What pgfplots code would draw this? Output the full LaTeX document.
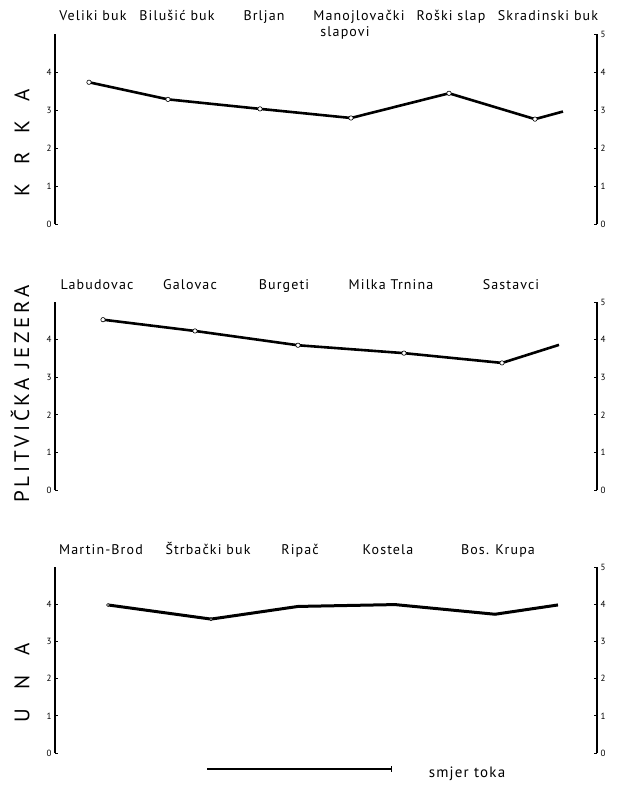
\documentclass[border=0pt]{standalone}
\usepackage{pgfplots}
\pgfplotsset{compat=1.18}
\usepackage{fontspec}
\setmainfont{PT Sans}

% one picture unit = one pixel of the reference (620 x 807)
\pgfplotsset{
  panel/.style={
    scale only axis, width=542pt, anchor=south west,
    xmin=55, xmax=597, ymin=0, ymax=5,
    axis x line=none, clip=false,
    axis line style={line width=1.6pt},
    tick style={black, line width=0.8pt}, major tick length=3pt,
    tick label style={font=\fontsize{9}{9}\selectfont},
    /pgf/number format/assume math mode=true,
  },
  lpanel/.style={panel, axis y line*=left, ytick={0,1,2,3,4}},
  rpanel/.style={panel, axis y line*=right, ytick={0,1,2,3,4,5}},
  river/.style={black, line width=2.6pt, mark=*, mark size=2.2pt,
    mark options={fill=white, draw=black, line width=0.6pt}},
}
\newcommand{\site}{\fontsize{14}{14}\selectfont\addfontfeature{LetterSpace=8}}
\newcommand{\rivername}{\fontsize{21}{21}\selectfont}

\begin{document}
\begin{tikzpicture}
\useasboundingbox (0pt,0pt) rectangle (620pt,-807pt);

% ---- KRKA
\begin{axis}[lpanel, at={(55pt,-224pt)}, height=190pt]
\addplot[river, mark indices={1,...,6}] coordinates {
  (89,3.73) (168,3.28) (260,3.03) (351,2.79) (449,3.44) (535,2.76) (563,2.96)};
\end{axis}
\begin{axis}[rpanel, at={(55pt,-224pt)}, height=190pt]
\addplot[draw=none] coordinates {(55,0)};
\end{axis}

% ---- PLITVICKA JEZERA
\begin{axis}[lpanel, at={(55pt,-490pt)}, height=188pt]
\addplot[river, mark indices={1,...,5}] coordinates {
  (103,4.53) (195,4.23) (298,3.85) (404,3.64) (502,3.38) (559,3.86)};
\end{axis}
\begin{axis}[rpanel, at={(55pt,-490pt)}, height=188pt]
\addplot[draw=none] coordinates {(55,0)};
\end{axis}

% ---- UNA
\begin{axis}[lpanel, at={(55pt,-753pt)}, height=186pt]
\addplot[river, line width=3pt, mark size=1.5pt, mark indices={1,...,2}] coordinates {
  (108,3.98) (211,3.60) (298,3.94) (395,3.99) (495,3.73) (558,3.98)};
\end{axis}
\begin{axis}[rpanel, at={(55pt,-753pt)}, height=186pt]
\addplot[draw=none] coordinates {(55,0)};
\end{axis}

% site names
\begin{scope}[every node/.style={font=\site, inner sep=0pt, anchor=base}]
\node at (93pt,-20pt)  {Veliki buk};
\node at (177pt,-20pt) {Bilušić buk};
\node at (264pt,-20pt) {Brljan};
\node at (359pt,-20pt) {Manojlovački};
\node at (345pt,-36pt) {slapovi};
\node at (451pt,-20pt) {Roški slap};
\node at (548pt,-20pt) {Skradinski buk};

\node at (97pt,-289pt)  {Labudovac};
\node at (190pt,-289pt) {Galovac};
\node at (284pt,-289pt) {Burgeti};
\node at (391pt,-289pt) {Milka Trnina};
\node at (511pt,-289pt) {Sastavci};

\node at (101pt,-554pt) {Martin-Brod};
\node at (208pt,-554pt) {Štrbački buk};
\node at (300pt,-554pt) {Ripač};
\node at (388pt,-554pt) {Kostela};
\node at (498pt,-554pt) {Bos. Krupa};
\end{scope}

% river names
\node[rotate=90, font=\rivername, inner sep=0pt] at (22pt,-143pt)
  {K\hspace{19pt}R\hspace{19pt}K\hspace{19pt}A};
\node[rotate=90, font=\rivername\addfontfeature{LetterSpace=18}, inner sep=0pt] at (20pt,-394pt)
  {PLITVIČKA JEZERA};
\node[rotate=90, font=\rivername, inner sep=0pt] at (22pt,-683pt)
  {U\hspace{19.5pt}N\hspace{19.5pt}A};

% flow direction
\draw[line width=1.2pt] (207pt,-769pt) -- (391pt,-769pt);
\draw[line width=0.8pt] (391pt,-766pt) -- (391pt,-772pt);
\node[font=\fontsize{15}{15}\selectfont\addfontfeature{LetterSpace=8}, inner sep=0pt, anchor=base] at (467pt,-777pt) {smjer toka};
\end{tikzpicture}
\end{document}
